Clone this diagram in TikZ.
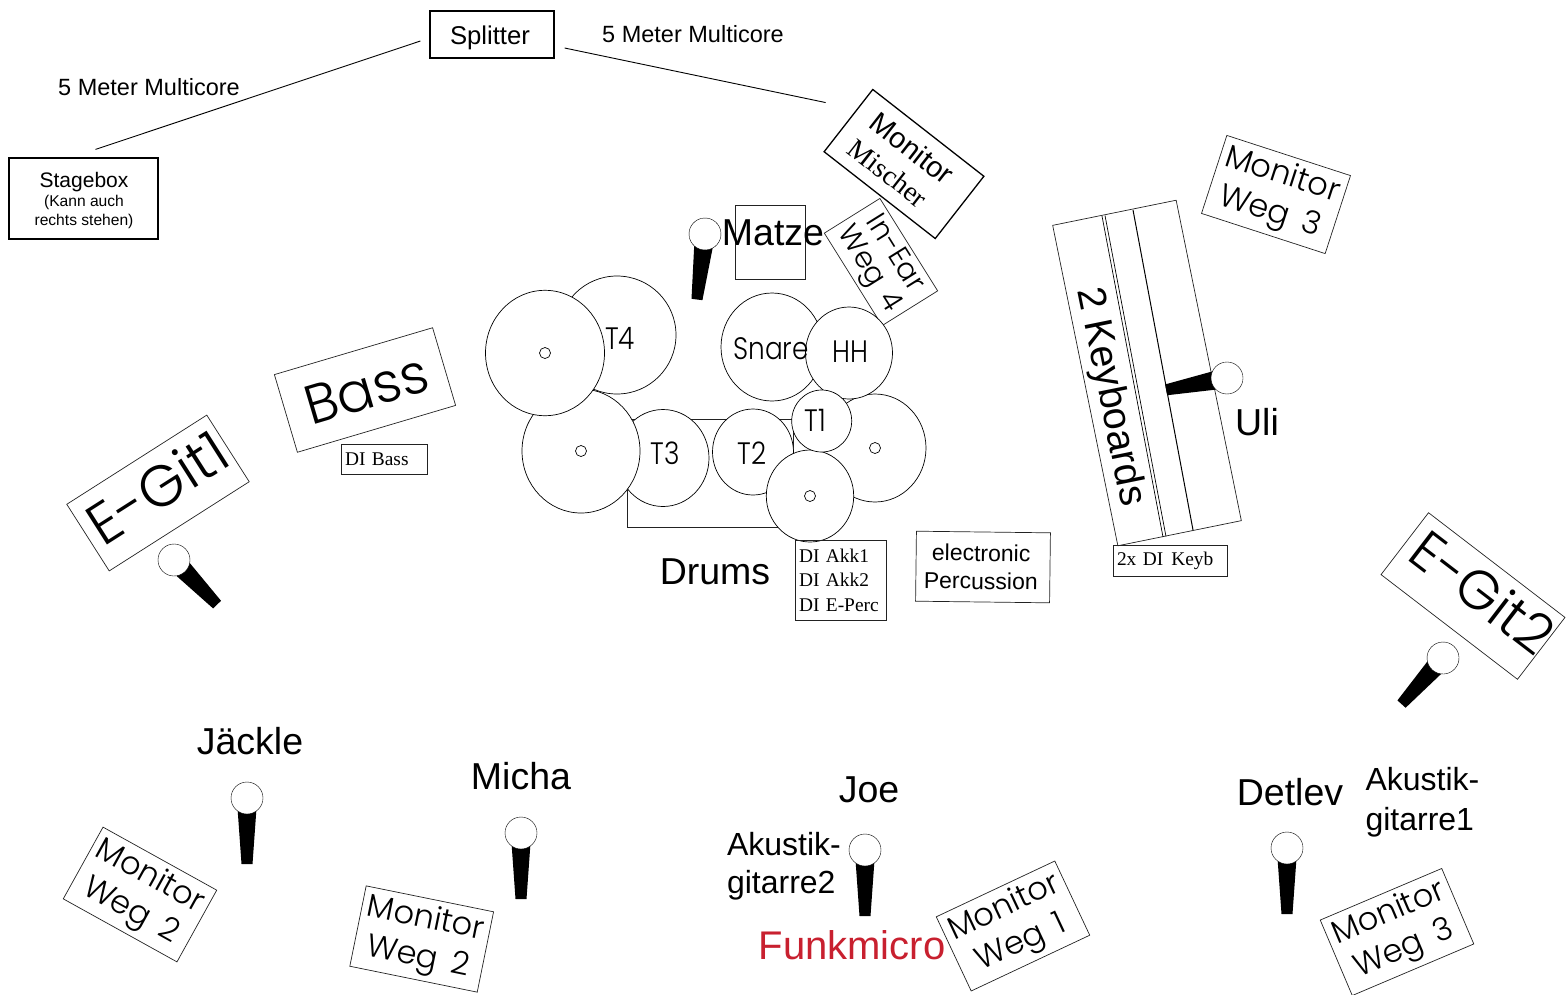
\documentclass[tikz,border=0pt]{standalone}
\usepackage{fontspec}
\setmainfont{Liberation Sans}
\newfontfamily\rmtimes{Liberation Serif}
\newfontfamily\gothic[WordSpace=1.6]{Poppins Light}
\usepackage{xcolor}
\definecolor{funkred}{HTML}{C8202F}
\definecolor{boxgray}{HTML}{222222}
\newcommand{\fs}[2]{\fontsize{#1}{#2}\selectfont}
\newcommand{\drumtxt}[1]{\scalebox{.85}[1]{#1}}
\newcommand{\mikro}[4]{%
  \begin{scope}[shift={(#1,#2)},rotate=#3]
    \fill[black] (-9.5,10) -- (9.5,10) -- (5.5,#4) -- (-5.5,#4) -- cycle;
    \draw[thin,fill=white] (0,0) circle [radius=16];
  \end{scope}}
\tikzset{
  thinbox/.style={draw=boxgray,line width=0.7pt,inner sep=0pt,align=center},
  monbox/.style={thinbox,minimum width=130,minimum height=82,text=black,font=\gothic\fs{32}{39}},
  drum/.style={draw,line width=0.7pt,fill=white},
  drumlabel/.style={text=black,font=\gothic\fs{31}{34}},
  player/.style={font=\fs{37.5}{40}},
  dibox/.style={thinbox,align=left,font=\rmtimes\fs{19.4}{24.5}},
}
\begin{document}
\begin{tikzpicture}[x=1pt,y=-1pt]
  \useasboundingbox (0,0) rectangle (1567,994);

  % oben
  \node[thinbox,line width=1.2pt,draw=black,minimum width=149,minimum height=81] (stagebox) at (83.5,198.5) {};
  \node at (84,182) {\fs{21}{24}Stagebox};
  \node at (84,212) [align=center,font=\fs{15.6}{18.5}] {(Kann auch\\rechts stehen)};
  \node[thinbox,line width=1.2pt,draw=black,minimum width=124,minimum height=47] (splitter) at (492,34.5) {};
  \node[font=\fs{25.7}{30}] (splittertext) at (490,37.5) {Splitter};
  \node at (149,87) {\fs{23.5}{26}5 Meter Multicore};
  \node at (693,34) {\fs{23.5}{26}5 Meter Multicore};
  \node[thinbox,line width=1.3pt,draw=black,minimum width=141,minimum height=79,rotate=-38] (mischer) at (904,164) {};
  \node[rotate=-38,font=\fs{29}{33}] (mischer1) at (912,148) {Monitor};
  \node[rotate=-38,font=\rmtimes\fs{28}{30}] (mischer2) at (888,173) {Mischer};
  \draw[line width=0.9pt] ([xshift=12pt,yshift=8pt]stagebox.north) -- ([xshift=-9pt,yshift=-6.5pt]splitter.west);
  \draw[line width=0.9pt] ([xshift=10pt,yshift=-13.5pt]splitter.east) -- ([xshift=-47pt,yshift=-14pt]mischer.north west);

  % Drums
  \node[thinbox,minimum width=70,minimum height=74] (matzebox) at (770,242) {};
  \draw[boxgray,line width=0.7pt] (627,419) rectangle (793,527);
  \node[thinbox,rotate=-58,minimum width=109,minimum height=65.5,text=black,font=\gothic\fs{29}{30}] (inear) at (881,262) {In-Ear\\Weg 4};
  \draw[drum] (617,335) ellipse [x radius=59,y radius=59];
  \draw[drum] (663,458) ellipse [x radius=46,y radius=48.5];
  \draw[drum] (753,452) ellipse [x radius=40.5,y radius=43];
  \draw[drum] (875,448) ellipse [x radius=51,y radius=54];
  \draw[drum] (581,451) ellipse [x radius=59,y radius=62];
  \draw[drum] (545,353) ellipse [x radius=59.5,y radius=62.7];
  \draw[drum] (772,347) ellipse [x radius=51,y radius=54];
  \draw[drum] (849,353) ellipse [x radius=43.5,y radius=46];
  \draw[drum] (810,496) ellipse [x radius=43.7,y radius=46];
  \draw[drum] (821.7,421) ellipse [x radius=30,y radius=31];
  \foreach \cx/\cy in {545/353,581/451,875/448,810/496}
    \draw[line width=0.7pt] (\cx,\cy) circle [radius=5.5];
  \node[drumlabel] (t4) at (620,338) {\drumtxt{T4}};
  \node[drumlabel] (t3) at (665,453) {\drumtxt{T3}};
  \node[drumlabel] (t2) at (752,453) {\drumtxt{T2}};
  \node[drumlabel] (t1) at (815,420) {\drumtxt{T1}};
  \node[drumlabel] (snare) at (771,349) {\drumtxt{Snare}};
  \node[drumlabel] (hh) at (850,352) {\drumtxt{HH}};
  \node[player] (matze) at (773,233) {Matze};
  \mikro{705}{234}{-7}{66}
  \node[player] (drums) at (715,572) {Drums};
  \node[dibox,minimum width=91,minimum height=80,inner xsep=4pt,text width=83,text=black] (diakk) at (840.5,580) {DI Akk1\\DI Akk2\\\mbox{DI E-Perc}};
  \node[thinbox,rotate=-0.7,minimum width=134,minimum height=70,font=\fs{23}{28}] (eperc) at (983,567) {\hspace*{-4pt}electronic\\\hspace*{-4pt}Percussion};

  % Bass und Gitarre
  \node[monbox,rotate=16.5,minimum width=165,minimum height=81,font=\gothic\fs{55}{60}] (bass) at (365,390) {\hspace*{3pt}Bass};
  \node[dibox,minimum width=86,minimum height=30,inner xsep=4pt,text width=78] (dibass) at (384,459) {DI Bass};
  \node[monbox,rotate=32.5,minimum width=166,minimum height=79] (egit1) at (158,493) {};
  \node[rotate=32.5,font=\gothic\fs{58}{60}] (egit1text) at (157,487) {E-Git1};
  \mikro{174}{560}{44}{62}
  \node[monbox,rotate=-37.5,minimum width=172,minimum height=78] (egit2) at (1473,596) {};
  \node[rotate=-37.5,font=\gothic\fs{55}{60}] (egit2text) at (1483,592) {E-Git2};
  \mikro{1443}{658}{-42}{62}

  % Keyboards
  \node[monbox,rotate=-18] (mon3) at (1276,194.5) {Monitor\\Weg 3};
  \node[thinbox,rotate=11.5,minimum width=126,minimum height=327] (keys) at (1147,373) {};
  \draw[line width=0.7pt] (1102,216) -- (1163,537);
  \draw[line width=0.7pt] (1105,215.5) -- (1166,536.5);
  \draw[line width=1pt] (1133,210) -- (1193,530);
  \node[rotate=-78.5,font=\fs{39.5}{40}] (keytext) at (1110,397) {2 Keyboards};
  \mikro{1227}{378}{-79}{62}
  \node[player] (uli) at (1257,422) {Uli};
  \node[dibox,minimum width=114,minimum height=31,inner xsep=4pt,text width=106] (dikeyb) at (1170,560.5) {2x DI\hspace{8pt}Keyb};

  % vorne
  \node[player] (jaeckle) at (250,741) {Jäckle};
  \mikro{247}{798}{0}{66}
  \node[monbox,rotate=-29] (mon2a) at (140,894.5) {Monitor\\Weg 2};
  \node[player] (micha) at (521,776) {Micha};
  \mikro{521}{833}{0}{66}
  \node[monbox,rotate=-11.5] (mon2b) at (421.7,939) {Monitor\\Weg 2};
  \node[player] (joe) at (869,790) {Joe};
  \node[align=left,font=\fs{32}{37.5},anchor=west] (akk2) at (723.5,866) {Akustik-\\gitarre2};
  \mikro{865}{850}{0}{66}
  \node[player,text=funkred,font=\fs{40}{44}] (funk) at (852,945) {Funkmicro};
  \node[monbox,rotate=25.2,minimum width=131] (mon1) at (1013,926) {Monitor\\Weg 1};
  \node[player] (detlev) at (1290,792) {Detlev};
  \node[align=left,font=\fs{32}{39.5},anchor=west] (akk1) at (1362,802) {Akustik-\\gitarre1};
  \mikro{1287}{848}{0}{66}
  \node[monbox,rotate=23,minimum width=132] (mon3b) at (1397,932) {Monitor\\Weg 3};
\end{tikzpicture}
\end{document}
